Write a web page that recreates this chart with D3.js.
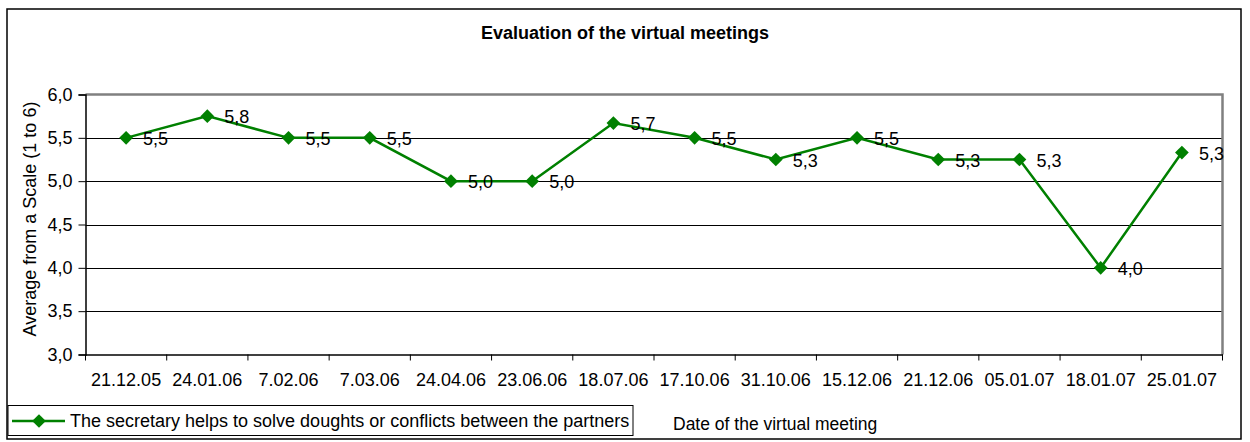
<!DOCTYPE html>
<html>
<head>
<meta charset="utf-8">
<script src="https://cdn.jsdelivr.net/npm/d3@7"></script>
<style>
  body { margin: 0; background: #fff; }
  svg { font-family: "Liberation Sans", Arial, sans-serif; }
</style>
</head>
<body>
<div id="target"></div>
<script>
// data
var dates = ['21.12.05', '24.01.06', '7.02.06', '7.03.06', '24.04.06', '23.06.06', '18.07.06',
             '17.10.06', '31.10.06', '15.12.06', '21.12.06', '05.01.07', '18.01.07', '25.01.07'];
var scores = [5.5, 5.75, 5.5, 5.5, 5.0, 5.0, 5.67, 5.5, 5.25, 5.5, 5.25, 5.25, 4.0, 5.33];
var yTicks = [3.0, 3.5, 4.0, 4.5, 5.0, 5.5, 6.0];
var seriesName = 'The secretary helps to solve doughts or conflicts between the partners';

var W = 1250, H = 442;
var pLeft = 85.5, pRight = 1222.5, pTop = 94.5, pBottom = 354.5;
var green = '#008000';

var fmt = d3.formatLocale({decimal: ',', thousands: '.', grouping: [3], currency: ['', '']}).format('.1f');

var svg = d3.select('#target').append('svg')
    .attr('width', W)
    .attr('height', H);

// outer frame
svg.append('rect')
    .attr('x', 7).attr('y', 9)
    .attr('width', 1234).attr('height', 430)
    .attr('fill', 'none')
    .attr('stroke', '#000')
    .attr('stroke-width', 1.5);

svg.append('text')
    .attr('x', 625).attr('y', 39)
    .attr('text-anchor', 'middle')
    .style('font-size', '18px')
    .style('font-weight', 'bold')
    .text('Evaluation of the virtual meetings');

var x = d3.scaleBand().domain(dates).range([pLeft, pRight]);
var y = d3.scaleLinear().domain([3, 6]).range([pBottom, pTop]);

// gridlines
svg.append('g').selectAll('line')
    .data(yTicks.slice(1, -1))
    .enter().append('line')
    .attr('x1', pLeft).attr('x2', pRight)
    .attr('y1', function(d) { return Math.round(y(d)) + 0.5; })
    .attr('y2', function(d) { return Math.round(y(d)) + 0.5; })
    .attr('stroke', '#000')
    .attr('stroke-width', 1);

// top + right border of plot area (gray)
svg.append('path')
    .attr('d', 'M' + pLeft + ',' + pTop + 'H' + pRight + 'V' + pBottom)
    .attr('fill', 'none')
    .attr('stroke', '#808080')
    .attr('stroke-width', 2.5);

// y axis
var yAxis = d3.axisLeft(y).tickValues(yTicks).tickSize(7).tickPadding(6)
    .tickFormat(fmt);
var gy = svg.append('g').attr('transform', 'translate(' + pLeft + ',0)').call(yAxis);
gy.select('.domain').attr('stroke', '#000').attr('stroke-width', 1.5);
gy.selectAll('.tick text').style('font-size', '18px').attr('fill', '#000').attr('font-family', null);

// x axis, ticks between categories
var xAxis = d3.axisBottom(x).tickSize(0).tickPadding(19);
var gx = svg.append('g').attr('transform', 'translate(0,' + pBottom + ')').call(xAxis);
gx.select('.domain').attr('stroke', '#000').attr('stroke-width', 1.5);
gx.selectAll('.tick text').style('font-size', '18px').attr('fill', '#000').attr('font-family', null);
gx.selectAll('.sep')
    .data(dates.concat(['end']))
    .enter().append('line')
    .attr('class', 'sep')
    .attr('x1', function(d, i) { return pLeft + i * x.bandwidth(); })
    .attr('x2', function(d, i) { return pLeft + i * x.bandwidth(); })
    .attr('y1', 0).attr('y2', 6)
    .attr('stroke', '#000');

// y title
svg.append('text')
    .attr('transform', 'translate(36,219) rotate(-90)')
    .attr('text-anchor', 'middle')
    .style('font-size', '18px')
    .text('Average from a Scale (1 to 6)');

// series
var cx = function(d, i) { return x(dates[i]) + x.bandwidth() / 2; };
var line = d3.line()
    .x(function(d, i) { return cx(d, i); })
    .y(function(d) { return y(d); });

svg.append('path')
    .datum(scores)
    .attr('d', line)
    .attr('fill', 'none')
    .attr('stroke', green)
    .attr('stroke-width', 2.5);

var diamond = d3.symbol().type(d3.symbolDiamond2).size(120);
svg.append('g').selectAll('path')
    .data(scores)
    .enter().append('path')
    .attr('d', diamond)
    .attr('transform', function(d, i) { return 'translate(' + cx(d, i) + ',' + y(d) + ')'; })
    .attr('fill', green);

svg.append('g').selectAll('text')
    .data(scores)
    .enter().append('text')
    .attr('x', function(d, i) { return cx(d, i) + 17; })
    .attr('y', function(d) { return y(d) + 7; })
    .style('font-size', '18px')
    .text(function(d) { return fmt(d); });

// legend
svg.append('rect')
    .attr('x', 8).attr('y', 405.5)
    .attr('width', 625).attr('height', 30)
    .attr('fill', '#fff')
    .attr('stroke', '#000')
    .attr('stroke-width', 1);
svg.append('line')
    .attr('x1', 12).attr('x2', 65)
    .attr('y1', 421).attr('y2', 421)
    .attr('stroke', green)
    .attr('stroke-width', 2.5);
svg.append('path')
    .attr('d', diamond)
    .attr('transform', 'translate(39,421)')
    .attr('fill', green);
svg.append('text')
    .attr('x', 70).attr('y', 427)
    .style('font-size', '18px')
    .text(seriesName);

svg.append('text')
    .attr('x', 673).attr('y', 430)
    .style('font-size', '17.5px')
    .text('Date of the virtual meeting');
</script>
</body>
</html>
